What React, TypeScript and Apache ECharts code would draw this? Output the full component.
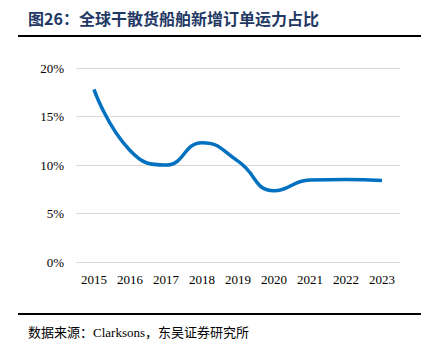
import React, { useEffect, useRef } from "react";
import * as echarts from "echarts";

const categories = ["2015", "2016", "2017", "2018", "2019", "2020", "2021", "2022", "2023"];
const shareValues = [17.8, 11.5, 10.0, 12.3, 10.4, 7.35, 8.45, 8.5, 8.4];
const yTicks = { min: 0, max: 20, interval: 5 };
const titleText = "图26：全球干散货船舶新增订单运力占比";
const sourceText = "数据来源：Clarksons，东吴证券研究所";

const serif = "'Times New Roman', 'Liberation Serif', serif";

export default function App() {
  const ref = useRef<HTMLDivElement>(null);
  useEffect(() => {
    document.body.style.margin = "0";
    const chart = echarts.init(ref.current!, null, { renderer: "svg" });
    chart.setOption({
      animation: false,
      backgroundColor: "#ffffff",
      grid: { left: 76, right: 30, top: 68, bottom: 79 },
      xAxis: {
        type: "category",
        data: categories,
        boundaryGap: true,
        axisLine: { show: false },
        axisTick: { show: false },
        axisLabel: {
          margin: 11,
          color: "#000",
          fontFamily: serif,
          fontSize: 13,
        },
      },
      yAxis: {
        type: "value",
        min: yTicks.min,
        max: yTicks.max,
        interval: yTicks.interval,
        axisLine: { show: false },
        axisTick: { show: false },
        splitLine: { lineStyle: { color: "#d9d9d9", width: 1 } },
        axisLabel: {
          margin: 12,
          color: "#000",
          fontFamily: serif,
          fontSize: 13,
          formatter: "{value}%",
        },
      },
      series: [
        {
          type: "line",
          data: shareValues,
          smooth: 0.5,
          symbol: "none",
          lineStyle: { color: "#0070C0", width: 3.5 },
        },
      ],
      graphic: [
        {
          type: "text",
          left: 28,
          top: 10,
          style: {
            text: titleText,
            fill: "#1F3864",
            font: "bold 16px 'Noto Sans CJK SC', 'Liberation Serif'",
          },
        },
        {
          type: "line",
          shape: { x1: 18, y1: 36, x2: 421, y2: 36 },
          style: { stroke: "#000", lineWidth: 2 },
        },
        {
          type: "line",
          shape: { x1: 18, y1: 314, x2: 421, y2: 314 },
          style: { stroke: "#000", lineWidth: 2 },
        },
        {
          type: "text",
          left: 28,
          top: 326,
          style: {
            text: sourceText,
            fill: "#000",
            font: "13px 'Times New Roman', 'Liberation Serif', 'Noto Sans CJK SC'",
          },
        },
      ],
    });
    return () => chart.dispose();
  }, []);
  return <div ref={ref} style={{ width: 430, height: 341 }} />;
}
